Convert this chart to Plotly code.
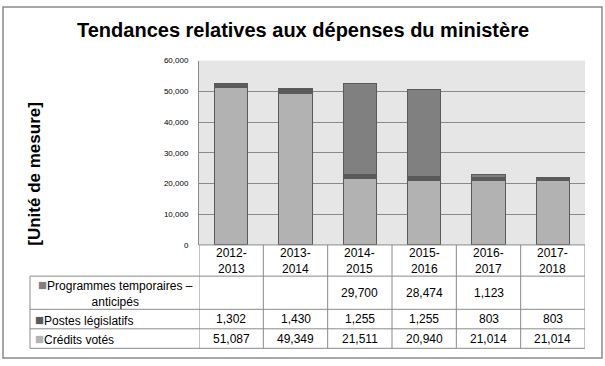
import plotly.graph_objects as go

W, H = 605, 366

title = "Tendances relatives aux dépenses du ministère"
y_title = "[Unité de mesure]"
years = ["2012-<br>2013", "2013-<br>2014", "2014-<br>2015", "2015-<br>2016", "2016-<br>2017", "2017-<br>2018"]
series_names = ["Crédits votés", "Postes législatifs", "Programmes temporaires –<br>anticipés"]
credits_votes = [51087, 49349, 21511, 20940, 21014, 21014]
postes_legislatifs = [1302, 1430, 1255, 1255, 803, 803]
programmes_temp = [None, None, 29700, 28474, 1123, None]
y_ticks = [0, 10000, 20000, 30000, 40000, 50000, 60000]
y_ticklabels = ["0", "10,000", "20,000", "30,000", "40,000", "50,000", "60,000"]

colors = ["#b2b2b2", "#5a5a5a", "#808080"]
outline = "#5a5a5a"
grid = "#8a8a8a"
font = "Liberation Sans, Arial, sans-serif"

def px(x):
    return x / W

def py(y):
    return 1 - y / H

# layout geometry (pixels)
plot_l, plot_r, plot_t, plot_b = 199, 585, 58, 247
tab_l = 30
row_lines = [279, 313, 333, 353]
row_centers = [296, 323, 343]

fig = go.Figure()
cats = list(range(len(years)))
for name, vals, col in zip(series_names, [credits_votes, postes_legislatifs, programmes_temp], colors):
    fig.add_trace(go.Bar(x=cats, y=vals, name=name, marker=dict(color=col, line=dict(color=outline, width=1)),
                         width=0.52, showlegend=False))

fig.update_layout(
    width=W, height=H, autosize=False,
    margin=dict(l=0, r=0, t=0, b=0),
    paper_bgcolor="white", plot_bgcolor="#e6e6e6",
    barmode="stack",
    xaxis=dict(domain=[px(plot_l), px(plot_r)], range=[-0.5, len(years) - 0.5],
               showticklabels=False, showgrid=False, zeroline=False, showline=False, fixedrange=True),
    yaxis=dict(domain=[py(plot_b), py(plot_t)], range=[0, 60000], tickvals=y_ticks, ticktext=y_ticklabels,
               tickfont=dict(family=font, size=8, color="#000"), showgrid=True, gridcolor=grid, gridwidth=1,
               zeroline=False, showline=True, linecolor=grid, linewidth=1, ticks="", ticklabelstandoff=8),
    font=dict(family=font, color="#000"),
)

shapes = []
# outer border
shapes.append(dict(type="rect", xref="paper", yref="paper", x0=px(3), x1=px(602), y0=py(363), y1=py(3),
                   line=dict(color="#8a8a8a", width=1.5)))
# table horizontal lines
shapes.append(dict(type="line", xref="x", yref="paper", x0=-0.5, x1=len(years) - 0.5, y0=py(plot_b), y1=py(plot_b),
                   line=dict(color=grid, width=1)))
for yl in row_lines:
    shapes.append(dict(type="line", xref="paper", yref="paper", x0=px(tab_l), x1=px(plot_r), y0=py(yl), y1=py(yl),
                       line=dict(color=grid, width=1)))
# vertical lines between columns
for i in range(len(years) + 1):
    shapes.append(dict(type="line", xref="x", yref="paper", x0=i - 0.5, x1=i - 0.5, y0=py(353), y1=py(plot_b),
                       line=dict(color=grid, width=1)))
shapes.append(dict(type="line", xref="paper", yref="paper", x0=px(tab_l), x1=px(tab_l), y0=py(353), y1=py(279),
                   line=dict(color=grid, width=1)))
fig.update_layout(shapes=shapes)

ann = []
ann.append(dict(text="<b>" + title + "</b>", xref="paper", yref="paper", x=px(303), y=py(27),
                xanchor="center", yanchor="middle", showarrow=False,
                font=dict(family=font, size=20, color="#000")))
ann.append(dict(text="<b>" + y_title + "</b>", xref="paper", yref="paper", x=px(35), y=py(174),
                xanchor="center", yanchor="middle", textangle=-90, showarrow=False,
                font=dict(family=font, size=17, color="#000")))
# year headers
for i, yr in enumerate(years):
    ann.append(dict(text=yr, xref="x", yref="paper", x=i, y=py(263), xanchor="center", yanchor="middle",
                    showarrow=False, font=dict(family=font, size=12, color="#000")))
# row headers
sq = '<span style="color:{c};font-size:15px">■</span>'
rows = [(series_names[2], programmes_temp, colors[2]),
        (series_names[1], postes_legislatifs, colors[1]),
        (series_names[0], credits_votes, colors[0])]
for r, (name, vals, col) in enumerate(rows):
    if r == 0:
        ann.append(dict(text=sq.format(c=col) + name, xref="paper", yref="paper", x=px(115), y=py(row_centers[r]),
                        xanchor="center", yanchor="middle", align="center", showarrow=False,
                        font=dict(family=font, size=12, color="#000")))
    else:
        ann.append(dict(text=sq.format(c=col) + name, xref="paper", yref="paper", x=px(33), y=py(row_centers[r]),
                        xanchor="left", yanchor="middle", align="left", showarrow=False,
                        font=dict(family=font, size=12, color="#000")))
    for i, v in enumerate(vals):
        if v is None:
            continue
        ann.append(dict(text=f"{v:,}", xref="x", yref="paper", x=i, y=py(row_centers[r]),
                        xanchor="center", yanchor="middle", showarrow=False,
                        font=dict(family=font, size=12, color="#000")))
fig.update_layout(annotations=ann)

fig.write_html("out.html", config={"displayModeBar": False},
               post_script="document.body.style.margin='0';document.body.style.padding='0';document.body.style.overflow='hidden';")
